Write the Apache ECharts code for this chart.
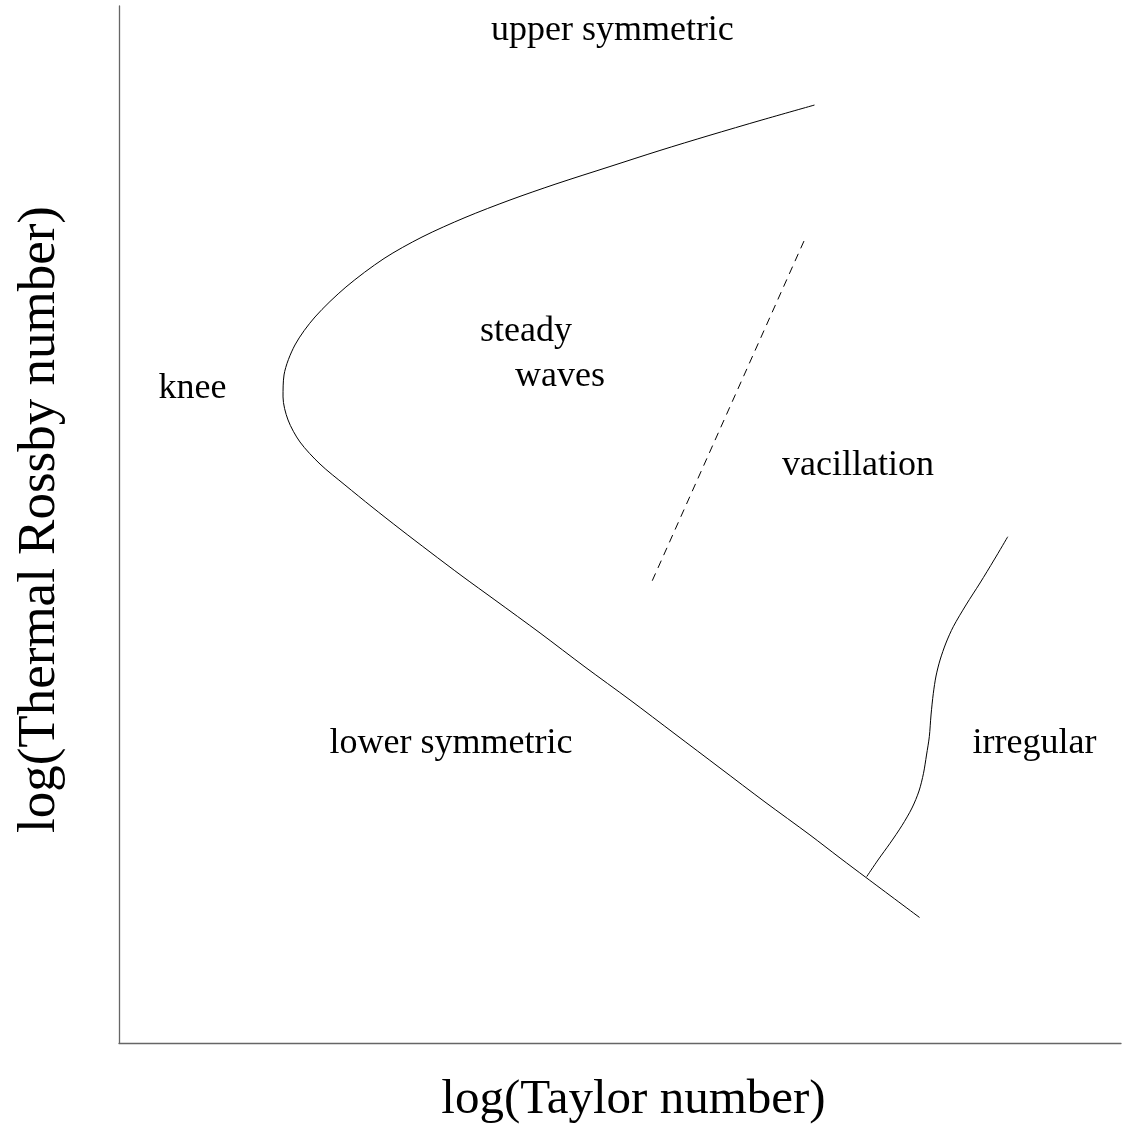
<!DOCTYPE html>
<html>
<head>
<meta charset="utf-8">
<script src="https://cdn.jsdelivr.net/npm/echarts@6/dist/echarts.min.js"></script>
<style>
html,body{margin:0;padding:0;background:#fff;}
#chart{width:1122px;height:1134px;}
</style>
</head>
<body>
<div id="chart"></div>
<script>
// Schematic regime diagram (arbitrary log units, 0-100 on both axes)
var xTitle = 'log(Taylor number)';
var yTitle = 'log(Thermal Rossby number)';

// main transition curve (upper branch -> knee -> lower branch)
var mainCurve = [
  [69.41, 90.45], [64.17, 89.01], [58.88, 87.51], [53.99, 86.07],
  [49.00, 84.52], [43.61, 82.84], [39.02, 81.29], [34.53, 79.60],
  [30.24, 77.72], [26.45, 75.65], [22.65, 72.90], [19.56, 70.01],
  [17.56, 67.31], [16.47, 64.42], [16.37, 62.30], [16.87, 60.08],
  [18.06, 57.96], [20.06, 55.83], [22.55, 53.81], [25.25, 51.69],
  [28.04, 49.57], [31.04, 47.35], [34.23, 45.03], [37.52, 42.72],
  [42.02, 39.54], [46.51, 36.26], [51.00, 33.08], [55.49, 29.80],
  [59.98, 26.52], [64.47, 23.24], [68.96, 20.06], [71.96, 17.84],
  [74.55, 15.96], [79.90, 12.10]
];

// vacillation / steady waves boundary (dashed)
var dashedCurve = [[53.22, 44.58], [68.53, 77.70]];

// irregular boundary
var irregularCurve = [
  [74.62, 16.04], [75.75, 17.65], [76.95, 19.26], [78.14, 20.97],
  [79.14, 22.66], [79.84, 24.30], [80.29, 26.01], [80.59, 27.77],
  [80.87, 29.54], [81.04, 31.63], [81.27, 33.72], [81.54, 35.39],
  [81.94, 36.93], [82.53, 38.57], [83.26, 40.14], [84.53, 42.24],
  [85.93, 44.36], [87.33, 46.58], [88.70, 48.82]
];

// region labels
var regionNames = ['upper symmetric', 'steady', 'waves', 'knee', 'vacillation', 'lower symmetric', 'irregular'];
var regionPos = [
  [49.24, 97.59], [40.62, 68.61], [44.01, 64.27], [7.34, 63.14],
  [73.75, 55.64], [33.13, 28.83], [91.37, 28.91]
];

var font = 'Liberation Serif';
var chart = echarts.init(document.getElementById('chart'), null, {renderer: 'canvas'});

var labelData = regionNames.map(function (n, i) {
  return {name: n, value: regionPos[i]};
});

chart.setOption({
  animation: false,
  backgroundColor: '#ffffff',
  grid: {left: 119, right: 1, top: 6, bottom: 91, containLabel: false},
  xAxis: {
    type: 'value', min: 0, max: 100,
    name: xTitle, nameLocation: 'middle', nameGap: 33,
    nameTextStyle: {fontFamily: font, fontSize: 49, color: '#000', padding: [0, 0, 0, 27]},
    axisLine: {show: true, onZero: false, lineStyle: {color: '#666', width: 1.3}},
    axisTick: {show: false}, axisLabel: {show: false}, splitLine: {show: false}
  },
  yAxis: {
    type: 'value', min: 0, max: 100,
    name: yTitle, nameLocation: 'middle', nameGap: 52, nameRotate: 90,
    nameTextStyle: {fontFamily: font, fontSize: 53, color: '#000', padding: [0, 0, 0, 10]},
    axisLine: {show: true, onZero: false, lineStyle: {color: '#666', width: 1.3}},
    axisTick: {show: false}, axisLabel: {show: false}, splitLine: {show: false}
  },
  series: [
    {
      type: 'line', data: mainCurve, smooth: 0.3, showSymbol: false,
      lineStyle: {color: '#000', width: 1}, z: 3
    },
    {
      type: 'line', data: dashedCurve, showSymbol: false,
      lineStyle: {color: '#000', width: 1, type: [8, 6]}, z: 3
    },
    {
      type: 'line', data: irregularCurve, smooth: 0.3, showSymbol: false,
      lineStyle: {color: '#000', width: 1}, z: 3
    },
    {
      type: 'scatter', data: labelData, symbolSize: 0, z: 4,
      label: {
        show: true, position: 'inside', formatter: '{b}',
        fontFamily: font, fontSize: 36, color: '#000',
        textBorderWidth: 0, opacity: 1,
        align: 'center', verticalAlign: 'middle'
      }
    }
  ]
});
</script>
</body>
</html>
